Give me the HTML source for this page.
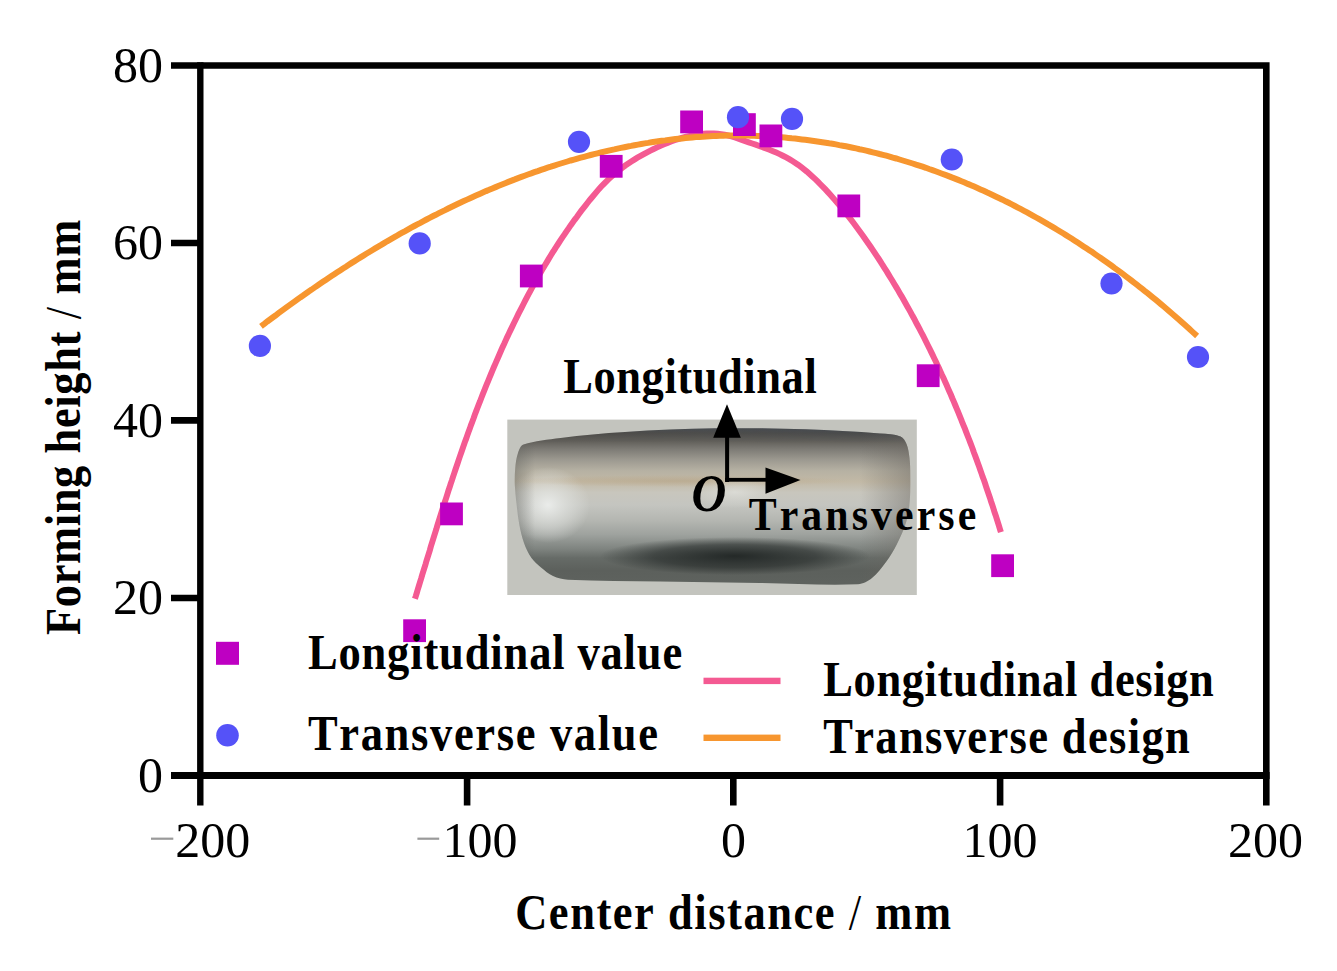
<!DOCTYPE html>
<html><head><meta charset="utf-8"><style>
html,body{margin:0;padding:0;background:#fff;}
svg{display:block;}
text{font-family:"Liberation Serif",serif;}
.b{font-weight:bold;}
</style></head><body>
<svg width="1337" height="971" viewBox="0 0 1337 971">
<defs>
<linearGradient id="sheetV" gradientUnits="userSpaceOnUse" x1="0" y1="427" x2="0" y2="583">
<stop offset="0" stop-color="#464b51"/>
<stop offset="0.04" stop-color="#4e4d4a"/>
<stop offset="0.09" stop-color="#615f5a"/>
<stop offset="0.14" stop-color="#7c7a74"/>
<stop offset="0.21" stop-color="#9c9990"/>
<stop offset="0.28" stop-color="#b6b1a3"/>
<stop offset="0.35" stop-color="#c2b9a6"/>
<stop offset="0.42" stop-color="#c8c6bd"/>
<stop offset="0.50" stop-color="#c4c5c0"/>
<stop offset="0.60" stop-color="#b4b6b1"/>
<stop offset="0.69" stop-color="#9ea29e"/>
<stop offset="0.78" stop-color="#7f8480"/>
<stop offset="0.84" stop-color="#666b67"/>
<stop offset="0.92" stop-color="#5c605c"/>
<stop offset="1" stop-color="#5e625e"/>
</linearGradient>
<radialGradient id="hl1">
<stop offset="0" stop-color="#eceeec" stop-opacity="0.95"/>
<stop offset="0.6" stop-color="#e0e2df" stop-opacity="0.5"/>
<stop offset="1" stop-color="#e0e2df" stop-opacity="0"/>
</radialGradient>
<radialGradient id="dk1">
<stop offset="0" stop-color="#1c2120" stop-opacity="0.9"/>
<stop offset="0.6" stop-color="#1c2120" stop-opacity="0.55"/>
<stop offset="1" stop-color="#1c2120" stop-opacity="0"/>
</radialGradient>
<radialGradient id="tan">
<stop offset="0" stop-color="#b09a78" stop-opacity="0.4"/>
<stop offset="1" stop-color="#b89c72" stop-opacity="0"/>
</radialGradient>
<linearGradient id="tbH" x1="0" y1="0" x2="1" y2="0">
<stop offset="0" stop-color="#504a42" stop-opacity="0.35"/>
<stop offset="0.45" stop-color="#4a4f55" stop-opacity="0.2"/>
<stop offset="1" stop-color="#3e4650" stop-opacity="0.55"/>
</linearGradient>
<linearGradient id="tbV" x1="0" y1="0" x2="0" y2="1">
<stop offset="0" stop-color="#fff"/>
<stop offset="0.5" stop-color="#fff" stop-opacity="0.6"/>
<stop offset="1" stop-color="#fff" stop-opacity="0"/>
</linearGradient>
<mask id="tbM" maskUnits="userSpaceOnUse" x="505" y="420" width="412" height="40"><rect x="505" y="425" width="412" height="18" fill="url(#tbV)"/></mask>
<linearGradient id="rEdge" x1="0" y1="0" x2="1" y2="0">
<stop offset="0" stop-color="#6a6660" stop-opacity="0"/>
<stop offset="0.7" stop-color="#6a6660" stop-opacity="0.35"/>
<stop offset="1" stop-color="#6a6660" stop-opacity="0.5"/>
</linearGradient>
<linearGradient id="lEdge" x1="0" y1="0" x2="1" y2="0">
<stop offset="0" stop-color="#5a5c58" stop-opacity="0.6"/>
<stop offset="1" stop-color="#5a5c58" stop-opacity="0"/>
</linearGradient>
</defs>
<rect x="0" y="0" width="1337" height="971" fill="#fff"/>

<!-- inset photo -->
<rect x="507.3" y="419.6" width="409.5" height="175.4" fill="#c3c4be"/>
<clipPath id="sc"><path d="M523.5,444.6 C534.7,440.6 548.1,439.5 560.6,437.9 C582.0,435.2 603.5,433.2 625.0,431.9 C655.0,430.0 685.0,428.7 715.0,428.3 C745.1,427.9 775.2,428.4 805.3,429.3 C830.2,430.1 855.1,431.6 880.0,433.5 C886.9,434.0 894.5,434.1 900.5,436.5 C903.3,437.6 905.3,441.1 906.5,444.0 C908.3,448.3 908.9,453.3 909.5,458.0 C910.2,463.6 910.3,469.3 910.3,475.0 C910.4,483.6 910.5,492.2 909.8,500.7 C909.2,507.8 908.3,514.9 906.3,521.7 C904.0,529.4 900.6,536.8 897.0,544.0 C893.8,550.3 890.2,556.4 886.0,562.0 C881.8,567.7 877.4,573.7 872.0,578.0 C868.1,581.1 863.0,584.0 858.0,584.2 C825.7,585.6 792.7,583.4 760.0,583.0 C726.7,582.5 693.3,582.1 660.0,581.5 C629.3,581.0 598.5,581.4 567.9,579.8 C562.8,579.5 557.6,578.1 553.0,576.0 C548.6,574.0 544.7,570.6 541.0,567.5 C537.6,564.6 534.0,561.6 531.5,558.0 C528.3,553.4 525.9,548.2 524.0,542.9 C521.8,536.8 520.4,530.4 519.2,524.0 C517.9,517.1 517.2,510.0 516.4,503.0 C515.7,497.0 515.0,491.0 514.8,485.0 C514.6,479.5 514.7,473.9 515.2,468.4 C515.7,463.2 516.3,457.8 518.0,453.0 C519.1,449.9 520.5,445.7 523.5,444.6 Z"/></clipPath>
<g clip-path="url(#sc)">
<rect x="505" y="420" width="410" height="170" fill="url(#sheetV)"/>
<ellipse cx="548" cy="505" rx="42" ry="38" fill="url(#hl1)"/>
<ellipse cx="735" cy="556" rx="135" ry="19" fill="url(#dk1)"/>

<rect x="860" y="420" width="55" height="170" fill="url(#rEdge)"/>
<rect x="505" y="425" width="412" height="24" fill="url(#tbH)" mask="url(#tbM)"/>
<rect x="505" y="420" width="30" height="170" fill="url(#lEdge)"/>
<ellipse cx="680" cy="481" rx="170" ry="6" fill="url(#tan)"/>
<ellipse cx="735" cy="492" rx="45" ry="16" fill="url(#hl1)" opacity="0.55"/>
</g>
<!-- curves -->
<path d="M414.9,598.8 L415.8,596.1 L416.9,592.5 L417.9,589.0 L419.0,585.5 L420.1,581.9 L421.2,578.4 L422.2,574.9 L423.3,571.4 L424.4,567.8 L425.5,564.3 L426.5,560.8 L427.6,557.3 L428.7,553.8 L429.8,550.3 L430.8,546.7 L431.9,543.2 L433.0,539.7 L434.1,536.2 L435.2,532.7 L436.3,529.2 L437.3,525.7 L438.4,522.2 L439.5,518.7 L440.6,515.2 L441.7,511.7 L442.8,508.2 L444.0,504.7 L445.1,501.2 L446.2,497.8 L447.3,494.3 L448.4,490.8 L449.6,487.3 L450.7,483.8 L451.9,480.4 L453.0,476.9 L454.2,473.4 L455.3,470.0 L456.5,466.5 L457.7,463.0 L458.8,459.6 L460.0,456.1 L461.2,452.7 L462.4,449.2 L463.6,445.8 L464.8,442.3 L466.1,438.9 L467.3,435.4 L468.5,432.0 L469.8,428.6 L471.0,425.1 L472.3,421.7 L473.6,418.3 L474.8,414.8 L476.1,411.4 L477.4,408.0 L478.7,404.6 L480.1,401.2 L481.4,397.8 L482.7,394.4 L484.1,391.0 L485.4,387.6 L486.8,384.2 L488.2,380.8 L489.6,377.4 L491.0,374.0 L492.4,370.7 L493.8,367.3 L495.3,363.9 L496.7,360.6 L498.2,357.2 L499.7,353.8 L501.1,350.5 L502.6,347.1 L504.2,343.8 L505.7,340.4 L507.2,337.1 L508.8,333.8 L510.4,330.4 L512.0,327.1 L513.6,323.8 L515.2,320.5 L516.8,317.2 L518.4,313.9 L520.1,310.6 L521.8,307.3 L523.5,304.0 L525.2,300.7 L526.9,297.4 L528.6,294.2 L530.4,290.9 L532.1,287.7 L533.9,284.4 L535.7,281.2 L537.5,278.0 L539.3,274.8 L541.2,271.6 L543.0,268.4 L544.9,265.2 L546.8,262.1 L548.7,258.9 L550.6,255.8 L552.5,252.7 L554.5,249.6 L556.4,246.5 L558.4,243.5 L560.4,240.4 L562.4,237.4 L564.5,234.4 L566.5,231.4 L568.6,228.4 L570.6,225.4 L572.7,222.5 L574.8,219.6 L577.0,216.7 L579.1,213.8 L581.2,210.9 L583.4,208.1 L585.6,205.3 L587.8,202.5 L590.0,199.7 L592.3,197.0 L594.5,194.3 L596.8,191.6 L599.1,188.9 L601.5,186.3 L603.9,183.8 L606.4,181.3 L608.9,178.9 L611.5,176.5 L614.1,174.2 L616.8,172.0 L619.6,169.8 L622.5,167.6 L625.3,165.5 L628.3,163.5 L631.3,161.5 L634.3,159.6 L637.4,157.7 L640.6,155.9 L643.8,154.1 L647.1,152.3 L650.4,150.6 L653.7,149.0 L657.1,147.4 L660.5,145.8 L664.0,144.3 L667.5,142.9 L671.0,141.5 L674.5,140.2 L678.1,139.1 L681.7,138.0 L685.3,137.0 L688.9,136.1 L692.5,135.3 L696.1,134.7 L699.7,134.2 L703.3,133.8 L706.9,133.6 L710.5,133.5 L714.0,133.5 L717.6,133.8 L721.1,134.2 L724.6,134.8 L728.1,135.5 L731.6,136.4 L735.0,137.5 L738.4,138.7 L741.8,139.9 L745.3,141.1 L748.8,142.3 L752.2,143.5 L755.7,144.7 L759.2,146.0 L762.7,147.2 L766.1,148.5 L769.5,149.8 L773.0,151.2 L776.3,152.6 L779.7,154.1 L782.9,155.7 L786.2,157.4 L789.3,159.1 L792.4,161.0 L795.4,162.9 L798.4,164.9 L801.3,167.1 L804.1,169.3 L806.9,171.6 L809.6,174.0 L812.3,176.4 L815.0,178.9 L817.6,181.4 L820.1,184.0 L822.7,186.6 L825.2,189.2 L827.7,191.9 L830.1,194.6 L832.5,197.3 L835.0,200.1 L837.3,202.8 L839.7,205.6 L842.0,208.4 L844.4,211.3 L846.7,214.1 L848.9,217.0 L851.2,219.9 L853.4,222.8 L855.6,225.8 L857.8,228.7 L860.0,231.7 L862.2,234.7 L864.3,237.7 L866.4,240.7 L868.5,243.7 L870.6,246.8 L872.7,249.8 L874.7,252.9 L876.7,255.9 L878.8,259.0 L880.8,262.1 L882.7,265.2 L884.7,268.3 L886.7,271.4 L888.6,274.6 L890.5,277.7 L892.4,280.8 L894.3,284.0 L896.2,287.1 L898.1,290.3 L899.9,293.4 L901.8,296.6 L903.6,299.8 L905.4,303.0 L907.2,306.2 L909.0,309.4 L910.8,312.6 L912.5,315.8 L914.3,319.0 L916.0,322.3 L917.7,325.5 L919.4,328.7 L921.1,332.0 L922.8,335.2 L924.5,338.5 L926.1,341.8 L927.7,345.0 L929.4,348.3 L931.0,351.6 L932.6,354.9 L934.2,358.2 L935.8,361.5 L937.3,364.8 L938.9,368.1 L940.4,371.4 L941.9,374.8 L943.5,378.1 L945.0,381.4 L946.5,384.8 L947.9,388.1 L949.4,391.5 L950.9,394.8 L952.3,398.2 L953.8,401.6 L955.2,405.0 L956.6,408.3 L958.0,411.7 L959.4,415.1 L960.8,418.5 L962.1,421.9 L963.5,425.3 L964.9,428.7 L966.2,432.1 L967.5,435.5 L968.9,439.0 L970.2,442.4 L971.5,445.8 L972.8,449.2 L974.0,452.7 L975.3,456.1 L976.6,459.6 L977.8,463.0 L979.1,466.5 L980.3,469.9 L981.5,473.4 L982.7,476.9 L984.0,480.3 L985.2,483.8 L986.3,487.3 L987.5,490.8 L988.7,494.2 L989.9,497.7 L991.0,501.2 L992.2,504.7 L993.3,508.2 L994.4,511.7 L995.6,515.2 L996.7,518.7 L997.8,522.2 L998.9,525.7 L1000.0,529.3 L1000.9,532.2" fill="none" stroke="#F45A92" stroke-width="6"/>
<path d="M261.0,326.3 L261.9,325.6 L264.6,323.6 L267.3,321.5 L270.0,319.5 L272.7,317.5 L275.5,315.5 L278.2,313.4 L280.9,311.4 L283.7,309.4 L286.4,307.4 L289.2,305.4 L292.0,303.4 L294.8,301.4 L297.5,299.4 L300.3,297.4 L303.1,295.5 L305.9,293.5 L308.7,291.5 L311.6,289.6 L314.4,287.6 L317.2,285.7 L320.0,283.8 L322.9,281.8 L325.7,279.9 L328.6,278.0 L331.5,276.1 L334.3,274.2 L337.2,272.3 L340.1,270.4 L343.0,268.5 L345.9,266.7 L348.8,264.8 L351.7,262.9 L354.6,261.1 L357.5,259.3 L360.5,257.4 L363.4,255.6 L366.3,253.8 L369.3,252.0 L372.2,250.2 L375.2,248.4 L378.2,246.6 L381.2,244.9 L384.1,243.1 L387.1,241.3 L390.1,239.6 L393.1,237.9 L396.1,236.2 L399.1,234.4 L402.2,232.7 L405.2,231.1 L408.2,229.4 L411.2,227.7 L414.3,226.0 L417.3,224.4 L420.4,222.8 L423.5,221.1 L426.5,219.5 L429.6,217.9 L432.7,216.3 L435.8,214.8 L438.9,213.2 L442.0,211.6 L445.1,210.1 L448.2,208.5 L451.3,207.0 L454.4,205.5 L457.5,204.0 L460.7,202.5 L463.8,201.1 L467.0,199.6 L470.1,198.2 L473.3,196.7 L476.5,195.3 L479.6,193.9 L482.8,192.5 L486.0,191.1 L489.2,189.8 L492.4,188.4 L495.6,187.1 L498.8,185.8 L502.0,184.5 L505.2,183.2 L508.4,181.9 L511.7,180.6 L514.9,179.4 L518.1,178.1 L521.4,176.9 L524.6,175.7 L527.9,174.5 L531.2,173.4 L534.4,172.2 L537.7,171.1 L541.0,169.9 L544.3,168.8 L547.6,167.7 L550.9,166.7 L554.2,165.6 L557.5,164.5 L560.8,163.5 L564.1,162.5 L567.4,161.5 L570.7,160.5 L574.0,159.6 L577.4,158.6 L580.7,157.7 L584.0,156.8 L587.4,155.9 L590.7,155.0 L594.1,154.1 L597.4,153.3 L600.8,152.5 L604.2,151.7 L607.5,150.9 L610.9,150.1 L614.3,149.4 L617.6,148.6 L621.0,147.9 L624.4,147.2 L627.8,146.5 L631.1,145.9 L634.5,145.2 L637.9,144.6 L641.3,144.0 L644.7,143.4 L648.1,142.9 L651.5,142.3 L654.9,141.8 L658.3,141.3 L661.7,140.8 L665.1,140.4 L668.5,139.9 L671.9,139.5 L675.4,139.1 L678.8,138.7 L682.2,138.4 L685.6,138.0 L689.0,137.7 L692.4,137.4 L695.9,137.1 L699.3,136.9 L702.7,136.7 L706.1,136.4 L709.6,136.3 L713.0,136.1 L716.4,135.9 L719.8,135.8 L723.3,135.7 L726.7,135.6 L730.1,135.6 L733.5,135.5 L737.0,135.5 L740.4,135.5 L743.8,135.6 L747.2,135.6 L750.7,135.7 L754.1,135.8 L757.5,135.9 L760.9,136.1 L764.4,136.2 L767.8,136.4 L771.2,136.6 L774.6,136.8 L778.0,137.1 L781.5,137.3 L784.9,137.6 L788.3,137.9 L791.7,138.3 L795.1,138.6 L798.5,139.0 L801.9,139.4 L805.3,139.8 L808.8,140.2 L812.2,140.7 L815.6,141.2 L819.0,141.7 L822.3,142.2 L825.7,142.7 L829.1,143.3 L832.5,143.8 L835.9,144.4 L839.3,145.1 L842.7,145.7 L846.0,146.3 L849.4,147.0 L852.8,147.7 L856.1,148.4 L859.5,149.2 L862.9,149.9 L866.2,150.7 L869.6,151.5 L872.9,152.3 L876.3,153.1 L879.6,154.0 L882.9,154.8 L886.3,155.7 L889.6,156.6 L892.9,157.6 L896.2,158.5 L899.5,159.5 L902.8,160.5 L906.1,161.5 L909.4,162.5 L912.7,163.5 L916.0,164.6 L919.3,165.6 L922.6,166.7 L925.9,167.8 L929.1,169.0 L932.4,170.1 L935.6,171.3 L938.9,172.5 L942.1,173.7 L945.4,174.9 L948.6,176.1 L951.8,177.4 L955.0,178.6 L958.2,179.9 L961.5,181.2 L964.7,182.5 L967.8,183.9 L971.0,185.2 L974.2,186.6 L977.4,188.0 L980.5,189.4 L983.7,190.8 L986.8,192.3 L990.0,193.7 L993.1,195.2 L996.2,196.7 L999.4,198.2 L1002.5,199.7 L1005.6,201.3 L1008.7,202.8 L1011.8,204.4 L1014.9,206.0 L1017.9,207.6 L1021.0,209.2 L1024.1,210.8 L1027.1,212.4 L1030.1,214.1 L1033.2,215.8 L1036.2,217.5 L1039.2,219.2 L1042.2,220.9 L1045.2,222.6 L1048.2,224.4 L1051.2,226.1 L1054.2,227.9 L1057.2,229.7 L1060.1,231.5 L1063.1,233.3 L1066.0,235.1 L1069.0,237.0 L1071.9,238.8 L1074.8,240.7 L1077.7,242.6 L1080.6,244.5 L1083.5,246.4 L1086.4,248.3 L1089.3,250.2 L1092.2,252.1 L1095.0,254.1 L1097.9,256.1 L1100.7,258.0 L1103.5,260.0 L1106.4,262.0 L1109.2,264.0 L1112.0,266.0 L1114.8,268.1 L1117.6,270.1 L1120.4,272.2 L1123.1,274.2 L1125.9,276.3 L1128.6,278.4 L1131.4,280.5 L1134.1,282.6 L1136.8,284.7 L1139.5,286.8 L1142.2,288.9 L1144.9,291.1 L1147.6,293.2 L1150.3,295.4 L1153.0,297.6 L1155.6,299.7 L1158.3,301.9 L1160.9,304.1 L1163.5,306.3 L1166.1,308.5 L1168.7,310.8 L1171.3,313.0 L1173.9,315.2 L1176.5,317.5 L1179.1,319.7 L1181.6,322.0 L1184.2,324.3 L1186.7,326.5 L1189.2,328.8 L1191.7,331.1 L1194.2,333.4 L1197.1,336.0" fill="none" stroke="#F7962F" stroke-width="6"/>

<!-- axes frame -->
<g stroke="#000" stroke-width="6.6" fill="none">
<path d="M200.3,65.5 H1266.3 V805.5"/>
<path d="M200.3,62.2 V805.5" stroke-width="6.4"/>
<path d="M171,775.4 H1269.6" stroke-width="7"/>
<path d="M171,65.5 H200.3 M171,243 H200.3 M171,420.4 H200.3 M171,598 H200.3"/>
<path d="M467.1,775.3 V805.5 M733.3,775.3 V805.5 M1000.1,775.3 V805.5"/>
</g>

<!-- tick labels -->
<g font-size="50" fill="#000" text-anchor="end">
<text x="163" y="81.7">80</text>
<text x="163" y="259.2">60</text>
<text x="163" y="436.6">40</text>
<text x="163" y="614.2">20</text>
<text x="163" y="791.6">0</text>
</g>
<g font-size="50" fill="#000" text-anchor="middle">
<text x="212.7" y="856.9">200</text>
<text x="480.1" y="856.9">100</text>
<text x="733.5" y="856.9">0</text>
<text x="1000" y="856.9">100</text>
<text x="1265.5" y="856.9">200</text>
</g>
<rect x="151" y="837.6" width="22.3" height="2.2" fill="#9a9a9a"/>
<rect x="417.4" y="837.6" width="21.8" height="2.2" fill="#9a9a9a"/>

<!-- axis titles -->
<text font-size="50" font-weight="bold" transform="translate(515.20,929.00) scale(0.8900,1)" textLength="489.66" lengthAdjust="spacing" style="font-kerning:none">Center distance <tspan font-weight="normal">/</tspan> mm</text>
<text font-size="50" font-weight="bold" transform="translate(79.60,635.00) rotate(-90) scale(0.8900,1)" textLength="466.52" lengthAdjust="spacing" style="font-kerning:none">Forming height <tspan font-weight="normal">/</tspan> mm</text>

<!-- data -->
<g fill="#BE00C2"><rect x="403.2" y="619.3" width="22.8" height="22.8"/><rect x="440.1" y="502.5" width="22.8" height="22.8"/><rect x="519.9" y="264.6" width="22.8" height="22.8"/><rect x="599.8" y="154.9" width="22.8" height="22.8"/><rect x="680.2" y="110.5" width="22.8" height="22.8"/><rect x="733.0" y="113.2" width="22.8" height="22.8"/><rect x="759.5" y="124.5" width="22.8" height="22.8"/><rect x="837.4" y="194.5" width="22.8" height="22.8"/><rect x="916.8" y="364.3" width="22.8" height="22.8"/><rect x="991.2" y="554.3" width="22.8" height="22.8"/></g>
<g fill="#5552F8"><circle cx="259.9" cy="345.9" r="11.1"/><circle cx="419.7" cy="243.4" r="11.1"/><circle cx="579.0" cy="141.8" r="11.1"/><circle cx="738.0" cy="117.2" r="11.1"/><circle cx="792.0" cy="118.9" r="11.1"/><circle cx="951.8" cy="159.5" r="11.1"/><circle cx="1111.5" cy="283.5" r="11.1"/><circle cx="1198.0" cy="357.0" r="11.1"/></g>

<!-- inset arrows and labels -->
<g fill="#000" stroke="none">
<rect x="725.1" y="436" width="4" height="46"/>
<rect x="725.1" y="477.9" width="41" height="3.8"/>
<path d="M727,404.2 L740.8,437.8 L713.2,437.8 Z"/>
<path d="M800.5,480.1 L765.5,467.5 L765.5,493.8 Z"/>
</g>
<text font-size="50" font-weight="bold" transform="translate(563.20,393.00) scale(0.8900,1)" textLength="284.94" lengthAdjust="spacing" style="font-kerning:none">Longitudinal</text>
<text font-size="47" font-weight="bold" transform="translate(748.70,530.30) scale(0.8900,1)" textLength="255.62" lengthAdjust="spacing" style="font-kerning:none">Transverse</text>
<text font-size="52" font-style="italic" font-weight="bold" x="691.5" y="510.9" textLength="34.8" lengthAdjust="spacingAndGlyphs">O</text>

<!-- legend -->
<rect x="216" y="641.8" width="23" height="23" fill="#BE00C2"/>
<circle cx="227.5" cy="735.3" r="11.3" fill="#5552F8"/>
<rect x="703.5" y="677.7" width="77" height="6.4" fill="#F45A92"/>
<rect x="703.5" y="734.6" width="77" height="6.4" fill="#F7962F"/>
<text font-size="50" font-weight="bold" transform="translate(307.90,668.70) scale(0.8900,1)" textLength="420.56" lengthAdjust="spacing" style="font-kerning:none">Longitudinal value</text>
<text font-size="50" font-weight="bold" transform="translate(307.90,750.00) scale(0.8900,1)" textLength="393.37" lengthAdjust="spacing" style="font-kerning:none">Transverse value</text>
<text font-size="50" font-weight="bold" transform="translate(823.30,696.00) scale(0.8900,1)" textLength="438.76" lengthAdjust="spacing" style="font-kerning:none">Longitudinal design</text>
<text font-size="50" font-weight="bold" transform="translate(823.20,752.70) scale(0.8900,1)" textLength="411.91" lengthAdjust="spacing" style="font-kerning:none">Transverse design</text>
</svg>
</body></html>
